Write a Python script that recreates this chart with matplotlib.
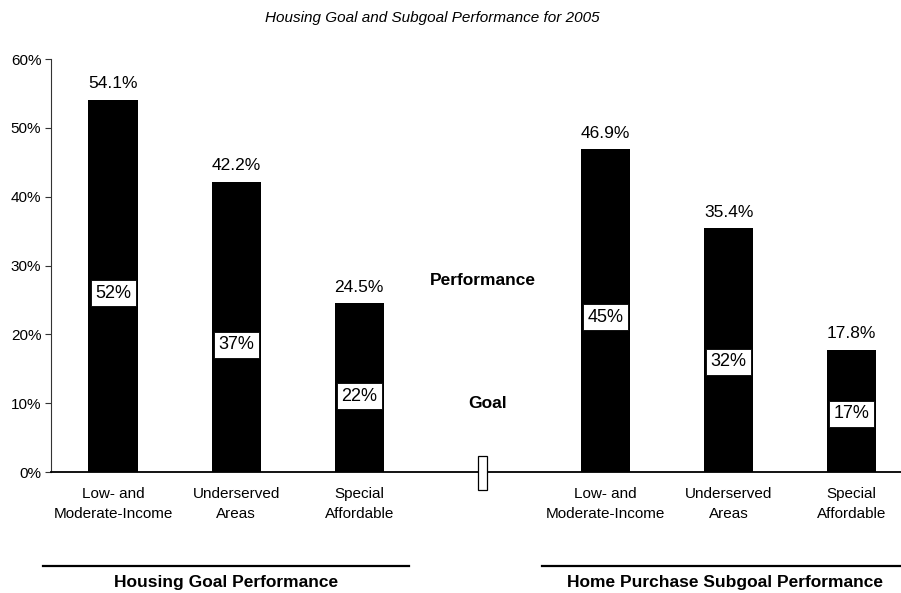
import matplotlib
matplotlib.use("Agg")
import matplotlib.pyplot as plt
from matplotlib.patches import Rectangle
from matplotlib.lines import Line2D

plt.rcParams['font.family'] = ['Liberation Sans', 'DejaVu Sans']

# data
categories = ["Low- and\nModerate-Income", "Underserved\nAreas", "Special\nAffordable"]
housing_perf = [54.1, 42.2, 24.5]
housing_goal = [52, 37, 22]
purchase_perf = [46.9, 35.4, 17.8]
purchase_goal = [45, 32, 17]
group_names = ["Housing Goal Performance", "Home Purchase Subgoal Performance"]
yticks = [0, 10, 20, 30, 40, 50, 60]

perf = housing_perf + purchase_perf
goal = housing_goal + purchase_goal
labels = categories + categories
xpos = [0, 1, 2, 4, 5, 6]

fig = plt.figure(figsize=(9.01, 5.93), dpi=100)
ax = fig.add_axes([0.0566, 0.204, 0.9434, 0.6963])

ax.bar(xpos, perf, width=0.4, color='black', zorder=2)

for x, p, g in zip(xpos, perf, goal):
    ax.annotate(f"{p:.1f}%", (x, p), xytext=(0, 6), textcoords='offset points',
                ha='center', va='bottom', fontsize=12.5)
    ax.text(x, g / 2, f"{g}%", ha='center', va='center', fontsize=13, zorder=4,
            bbox=dict(boxstyle='square,pad=0.25', facecolor='white',
                      edgecolor='black', linewidth=0.6))

# legend-like annotations in the gap
ax.text(3, 27.9, "Performance", ha='center', va='center', fontsize=12.5, fontweight='bold')
ax.text(3.04, 9.9, "Goal", ha='center', va='center', fontsize=12.5, fontweight='bold')

# axis break marker
ax.add_patch(Rectangle((3 - 0.036, -2.6), 0.073, 4.9, facecolor='white',
                       edgecolor='black', linewidth=0.9, clip_on=False, zorder=5))

ax.set_xlim(-0.504, 6.4)
ax.set_ylim(0, 60)
ax.set_yticks(yticks)
ax.set_yticklabels([f"{t}%" for t in yticks], fontsize=11)
ax.set_xticks(xpos)
ax.set_xticklabels(labels, fontsize=11)
for lab in ax.get_xticklabels():
    lab.set_linespacing(1.5)
ax.tick_params(axis='x', length=0, pad=11)
ax.tick_params(axis='y', length=4, width=0.8, pad=3, colors='#333333', labelcolor='black')

ax.spines['top'].set_visible(False)
ax.spines['right'].set_visible(False)
ax.spines['left'].set_color('#333333')
ax.spines['left'].set_linewidth(0.8)
ax.spines['bottom'].set_linewidth(1.3)

# group lines and labels under the axis
fig.add_artist(Line2D([43 / 901, 409 / 901], [1 - 566 / 593] * 2, color='black', linewidth=1.6))
fig.add_artist(Line2D([542 / 901, 1.0], [1 - 566 / 593] * 2, color='black', linewidth=1.6))
fig.text(226 / 901, 1 - 583 / 593, group_names[0], ha='center', va='center',
         fontsize=12.5, fontweight='bold')
fig.text(725 / 901, 1 - 583 / 593, group_names[1], ha='center', va='center',
         fontsize=12.5, fontweight='bold')

fig.text(432 / 901, 1 - 18 / 593, "Housing Goal and Subgoal Performance for 2005",
         ha='center', va='center', fontsize=11, style='italic')

fig.savefig("out.png", dpi=100)
